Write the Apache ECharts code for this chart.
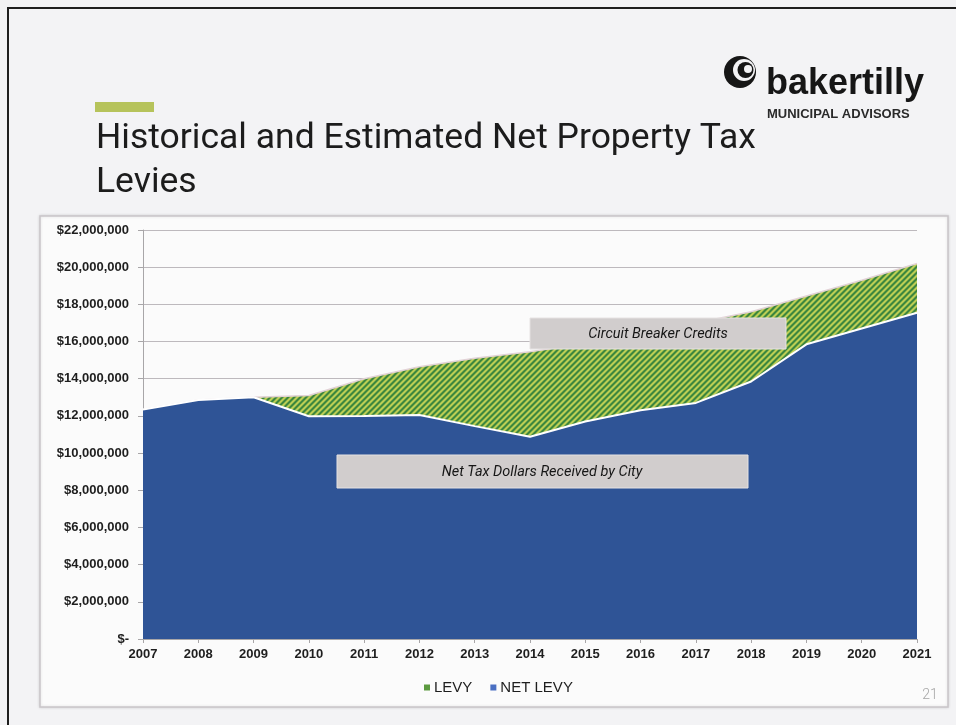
<!DOCTYPE html>
<html>
<head>
<meta charset="utf-8">
<script src="https://cdn.jsdelivr.net/npm/echarts@6/dist/echarts.min.js"></script>
<style>
  html, body { margin: 0; padding: 0; background: #f2f2f4; }
  #chart { width: 956px; height: 725px; }
</style>
</head>
<body>
<div id="chart"></div>
<script>
// Fiscal years on the horizontal axis
const years = ['2007', '2008', '2009', '2010', '2011', '2012', '2013', '2014',
               '2015', '2016', '2017', '2018', '2019', '2020', '2021'];

// Gross property tax levy (dollars)
const levy = [12350000, 12850000, 13000000, 13100000, 14000000, 14650000, 15100000, 15450000,
              15900000, 16400000, 17000000, 17600000, 18450000, 19300000, 20200000];

// Net levy after circuit breaker credits (dollars)
const netLevy = [12350000, 12850000, 13000000, 11980000, 12000000, 12050000, 11450000, 10880000,
                 11700000, 12300000, 12700000, 13850000, 15850000, 16700000, 17550000];

// Value axis range
const yMin = 0;
const yMax = 22000000;
const yStep = 2000000;

const seriesNames = ['LEVY', 'NET LEVY'];

// Diagonal green / lime hatch used for the credit band
function hatchPattern() {
  const n = 6;
  const c = document.createElement('canvas');
  c.width = n; c.height = n;
  const ctx = c.getContext('2d');
  const img = ctx.createImageData(n, n);
  const dark = [60, 134, 62], light = [188, 206, 84], mid = [124, 170, 73];
  for (let y = 0; y < n; y++) {
    for (let x = 0; x < n; x++) {
      const k = (x + y) % n;
      const col = k < 2 ? dark : (k === 2 ? mid : (k < 5 ? light : mid));
      const i = (y * n + x) * 4;
      img.data[i] = col[0]; img.data[i + 1] = col[1]; img.data[i + 2] = col[2]; img.data[i + 3] = 255;
    }
  }
  ctx.putImageData(img, 0, 0);
  return c;
}

const chart = echarts.init(document.getElementById('chart'), null, { renderer: 'canvas' });

const axisFont = { fontFamily: 'Liberation Sans, Arial, sans-serif', fontWeight: 'bold', fontSize: 13, color: '#1e1e1e' };

const option = {
  backgroundColor: '#f2f2f4',
  animation: false,
  grid: { left: 143, top: 230, right: 39, bottom: 86, containLabel: false },
  xAxis: {
    type: 'category',
    data: years,
    boundaryGap: false,
    axisLine: { show: true, lineStyle: { color: '#a8a6a8', width: 1 } },
    axisTick: { show: true, length: 4, lineStyle: { color: '#a8a6a8' } },
    axisLabel: Object.assign({ margin: 9 }, axisFont),
    splitLine: { show: false }
  },
  yAxis: {
    type: 'value',
    min: yMin,
    max: yMax,
    interval: yStep,
    axisLine: { show: true, lineStyle: { color: '#a8a6a8', width: 1 } },
    axisTick: { show: true, length: 5, lineStyle: { color: '#a8a6a8' } },
    axisLabel: Object.assign({
      margin: 14,
      formatter: v => v === 0 ? '$-' : '$' + v.toLocaleString('en-US')
    }, axisFont),
    splitLine: { show: true, lineStyle: { color: '#bdb9bd', width: 1 } }
  },
  legend: {
    top: 675,
    left: 419,
    itemWidth: 6,
    itemHeight: 6,
    itemGap: 18,
    icon: 'rect',
    textStyle: { fontFamily: 'Liberation Sans, Arial, sans-serif', fontSize: 15, color: '#1e1e1e', padding: [0, 0, 0, -1] },
    data: [
      { name: seriesNames[0], itemStyle: { color: '#5c9a40' } },
      { name: seriesNames[1], itemStyle: { color: '#4a6fc2' } }
    ]
  },
  series: [
    {
      name: seriesNames[0],
      type: 'line',
      data: levy,
      symbol: 'none',
      itemStyle: { color: '#5c9a40' },
      lineStyle: { color: '#e2d2d6', width: 1.5 },
      areaStyle: { color: { image: hatchPattern(), repeat: 'repeat' }, opacity: 1 },
      z: 2
    },
    {
      name: seriesNames[1],
      type: 'line',
      data: netLevy,
      symbol: 'none',
      itemStyle: { color: '#4a6fc2' },
      lineStyle: { color: '#ffffff', width: 2 },
      areaStyle: { color: '#2f5496', opacity: 1 },
      z: 3
    }
  ],
  graphic: [
    // slide frame
    { type: 'rect', z: -20, shape: { x: 8, y: 8, width: 980, height: 760 },
      style: { fill: '#f3f3f5', stroke: '#1e1e1e', lineWidth: 2 } },
    // chart panel
    { type: 'rect', z: -10, shape: { x: 40, y: 216, width: 908, height: 491 },
      style: { fill: '#fbfbfb', stroke: '#c9c5c9', lineWidth: 1.5, shadowBlur: 3, shadowColor: 'rgba(0,0,0,0.12)' } },
    // accent bar over the heading
    { type: 'rect', z: 5, shape: { x: 95, y: 102, width: 59, height: 10 }, style: { fill: '#b6c35b' } },
    // heading
    { type: 'text', z: 5, style: { text: 'Historical and Estimated Net Property Tax', x: 96, y: 139,
      fontFamily: 'Roboto, sans-serif', fontWeight: 400, fontSize: 35.5, fill: '#1c1c1c', verticalAlign: 'middle' } },
    { type: 'text', z: 5, style: { text: 'Levies', x: 96, y: 183,
      fontFamily: 'Roboto, sans-serif', fontWeight: 400, fontSize: 35.5, fill: '#1c1c1c', verticalAlign: 'middle' } },
    // logo mark
    { type: 'circle', z: 5, shape: { cx: 740, cy: 72, r: 16 }, style: { fill: '#161616' } },
    { type: 'circle', z: 6, shape: { cx: 744, cy: 70, r: 11 }, style: { fill: '#f3f3f5' } },
    { type: 'circle', z: 7, shape: { cx: 745.5, cy: 70, r: 8 }, style: { fill: '#161616' } },
    { type: 'circle', z: 8, shape: { cx: 748, cy: 69, r: 4 }, style: { fill: '#f3f3f5' } },
    // logo wordmark
    { type: 'text', z: 5, style: { text: 'bakertilly', x: 766, y: 84,
      fontFamily: 'Liberation Sans, Arial, sans-serif', fontWeight: 'bold', fontSize: 36, fill: '#161616', verticalAlign: 'middle' } },
    { type: 'text', z: 5, style: { text: 'MUNICIPAL ADVISORS', x: 767, y: 114,
      fontFamily: 'Liberation Sans, Arial, sans-serif', fontWeight: 'bold', fontSize: 13, fill: '#2a2a2a', verticalAlign: 'middle' } },
    // annotation: credit band
    { type: 'rect', z: 20, shape: { x: 530, y: 318, width: 256, height: 31 },
      style: { fill: '#d1cdcd', stroke: '#e6e2e2', lineWidth: 1 } },
    { type: 'text', z: 21, style: { text: 'Circuit Breaker Credits', x: 658, y: 334, align: 'center', verticalAlign: 'middle',
      fontFamily: 'Roboto, sans-serif', fontStyle: 'italic', fontSize: 14.5, fill: '#161616' } },
    // annotation: net dollars
    { type: 'rect', z: 20, shape: { x: 337, y: 455, width: 411, height: 33 },
      style: { fill: '#d1cdcd', stroke: '#e6e2e2', lineWidth: 1 } },
    { type: 'text', z: 21, style: { text: 'Net Tax Dollars Received by City', x: 542, y: 472, align: 'center', verticalAlign: 'middle',
      fontFamily: 'Roboto, sans-serif', fontStyle: 'italic', fontSize: 14.5, fill: '#161616' } },
    // slide number
    { type: 'text', z: 5, style: { text: '21', x: 930, y: 695, align: 'center', verticalAlign: 'middle',
      fontFamily: 'Roboto, sans-serif', fontWeight: 300, fontSize: 14, fill: '#a5a5a5' } }
  ]
};

chart.setOption(option);
</script>
</body>
</html>
